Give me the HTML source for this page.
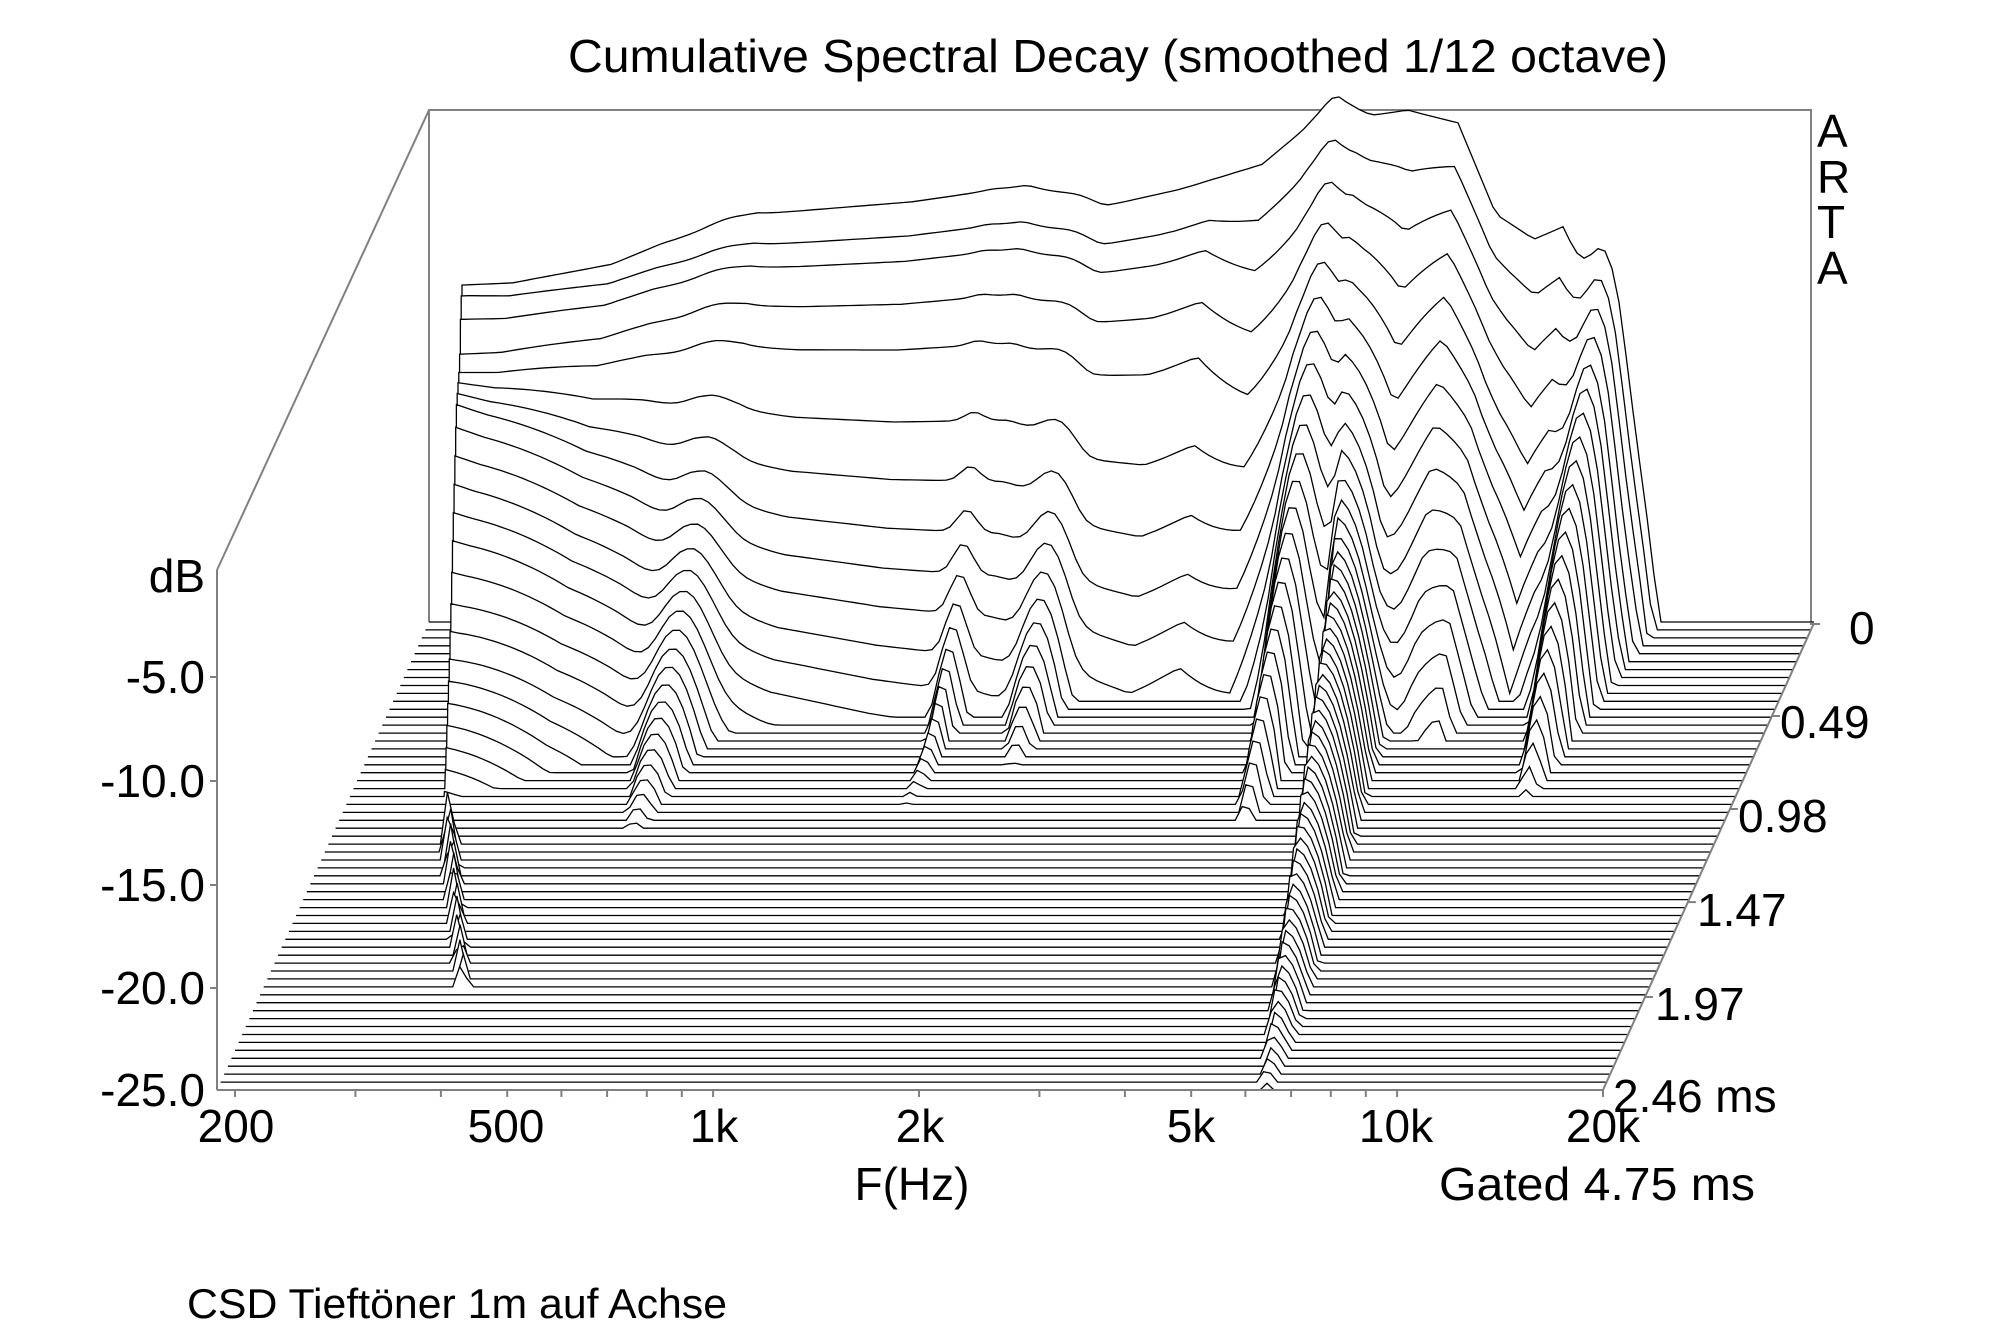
<!DOCTYPE html>
<html><head><meta charset="utf-8"><style>
html,body{margin:0;padding:0;background:#fff;}
svg{display:block;}
text{font-family:"Liberation Sans",Arial,sans-serif;fill:#000;}
</style></head><body>
<svg id="s" xmlns="http://www.w3.org/2000/svg" width="2000" height="1331" viewBox="0 0 2000 1331">
<rect width="2000" height="1331" fill="#fff"/>
<g id="back" stroke="#808080" stroke-width="2" fill="none">
<polyline points="217,570 429,110 1811,110 1811,624 1820,624"/>
<line x1="429" y1="110" x2="429" y2="622"/>
</g>
<g id="slices"></g>
<g stroke="#808080" stroke-width="2" fill="none">
<line x1="217" y1="570" x2="217" y2="1090"/>
<line x1="217" y1="1090" x2="1603" y2="1090"/>
<line x1="1603" y1="1090" x2="1814" y2="623"/>
<g id="ticks"></g>
</g>
<text x="1118" y="72" font-size="46" text-anchor="middle" textLength="1100" lengthAdjust="spacingAndGlyphs">Cumulative Spectral Decay (smoothed 1/12 octave)</text>
<g font-size="46" text-anchor="end">
<text x="205" y="592">dB</text>
<text x="205" y="693">-5.0</text>
<text x="205" y="797">-10.0</text>
<text x="205" y="901">-15.0</text>
<text x="205" y="1004">-20.0</text>
<text x="205" y="1106">-25.0</text>
</g>
<g font-size="46" text-anchor="middle">
<text x="236" y="1142">200</text>
<text x="506" y="1142">500</text>
<text x="714" y="1142">1k</text>
<text x="920" y="1142">2k</text>
<text x="1191" y="1142">5k</text>
<text x="1396" y="1142">10k</text>
<text x="1603" y="1142">20k</text>
<text x="912" y="1200">F(Hz)</text>
</g>
<g font-size="46">
<text x="1439" y="1200" textLength="316" lengthAdjust="spacingAndGlyphs">Gated 4.75 ms</text>
<text x="1849" y="644">0</text>
<text x="1780" y="738">0.49</text>
<text x="1738" y="832">0.98</text>
<text x="1697" y="926">1.47</text>
<text x="1655" y="1020">1.97</text>
<text x="1613" y="1112">2.46 ms</text>
<text x="187" y="1318" font-size="42" textLength="540" lengthAdjust="spacingAndGlyphs">CSD Tieftöner 1m auf Achse</text>
<text x="1817" y="147">A</text>
<text x="1817" y="193">R</text>
<text x="1817" y="238">T</text>
<text x="1817" y="284">A</text>
</g>
</svg>
<script>
(function(){
function lin(p,x){if(x<=p[0][0])return p[0][1];for(var i=1;i<p.length;i++){if(x<=p[i][0]){var a=p[i-1],b=p[i];return a[1]+(b[1]-a[1])*(x-a[0])/(b[0]-a[0]);}}return p[p.length-1][1];}
function cl(v){return v<0?0:(v>1?1:v);}
var P0=[[250,-8.8],[300,-8.7],[400,-7.8],[450,-6.8],[545,-5.4],[700,-4.8],[815,-4.0],[893,-5.0],[968,-4.2],[1050,-3],[1100,-1.0],[1125,-0.4],[1160,-0.8],[1195,-0.4],[1246,-1],[1284,-5.4],[1322,-6.6],[1351,-6],[1407,-11.8],[1440,-18],[1467,-25],[1480,-40]];
var SE=[[250,26],[350,25],[450,23],[550,21],[700,18],[800,15],[900,11],[980,8],[1050,9],[1100,14],[1150,15],[1200,10],[1280,17],[1330,10],[1390,16],[1450,12],[1500,12]];
var D=[[250,0],[350,2.5],[450,4],[600,5],[800,5],[1000,4],[1100,1],[1250,0],[1300,2],[1400,2],[1500,2]];
var LOWt=[[0,-8.8],[1,-8.95],[2,-9.7],[3,-11],[4,-11.5],[7,-11.75],[8,-12.4],[10,-14.3],[12,-16.2],[14,-18.5],[16,-20.4],[20,-23],[24,-25.5]];
var Mt=[[0,0],[1,0.9],[2,1.5],[3,2.7],[4,4],[5,6.2],[6,7.9],[7,9.3],[8,10.4],[10,12.5],[12,14.3],[14,16],[18,19.6],[30,30]];
var FS=[[300,0.8],[450,1.05],[600,1.3],[750,1.45],[850,1.55],[950,1.8],[1050,1.7]];
function res(s){
 var r=[];
 r.push([515,30,34,-18.5-0.25*s]);
 r.push([780,15,15,-23-0.08*s]);
 r.push([865,25,25,-18-0.4*s]);
 r.push([1123,20,20,-8-0.65*s]);
 r.push([1145+2*s,10,40,-14-0.18*s]);
 r.push([1392,20,20,-10-0.7*s]);
 if(s>=28&&s<=46) r.push([340+4.4*(s-29),6,12,-24.2]);
 return r;
}
function dB(xf,s){
 var xs=250+2.8*s;
 if(xf<xs) return -25;
 var p0=lin(P0,xf),se=lin(SE,xf),p0c=Math.max(p0,-25);
 var hi=p0-(p0c+25)*s/se-lin(D,xf)*Math.min(s,4)/4;
 var w=cl((xf-260)/250);
 var lo=p0-((1-w)*(-8.8-lin(LOWt,s))+w*lin(Mt,s)*lin(FS,xf));
 var b=cl((xf-1000)/100);
 var bb=(1-b)*lo+b*hi;
 var pw=Math.pow(10,bb/10);
 var R=res(s);
 for(var i=0;i<R.length;i++){var c=R[i][0],ww=xf<c?R[i][1]:R[i][2];var v=R[i][3]-6*Math.pow((xf-c)/ww,2);pw+=Math.pow(10,v/10);}
 var d=10*Math.log(pw)/Math.LN10;
 if(xf>1400) d-=Math.pow((xf-1400)/50,2)*6;
 return Math.max(-25,d);
}
var N=60,g=document.getElementById("slices"),out="";
for(var s=0;s<N;s++){
 var u=s/(N-1),dx=212*(1-u),dy=-468*(1-u),floor=1090+dy;
 var pts=[],xs=250+2.8*s;
 var xl=[];for(var x=217;x<=1602;x+=7)xl.push(x);xl.push(1602);
 xl.push(xs-0.5);xl.push(xs);xl.sort(function(a,b){return a-b;});
 for(var i=0;i<xl.length;i++){var x=xl[i];if(x<217||x>1602)continue;var v=dB(x,s);pts.push((x+dx).toFixed(1)+","+(floor-(v+25)*20.8).toFixed(1));}
 var ps=pts.join(" ");
 out+='<polygon fill="#fff" stroke="none" points="'+ps+' '+(1602+dx).toFixed(1)+','+(floor+1).toFixed(1)+' '+(217+dx).toFixed(1)+','+(floor+1).toFixed(1)+'"/>';
 out+='<polyline fill="none" stroke="#000" stroke-width="1.3" points="'+ps+'"/>';
}
g.innerHTML=out;
var t="",f=[200,300,400,500,600,700,800,900,1000,2000,3000,4000,5000,6000,7000,8000,9000,10000,20000];
for(var i=0;i<f.length;i++){var x=235+684*Math.log(f[i]/200)/Math.LN10;t+='<line x1="'+x.toFixed(1)+'" y1="1090" x2="'+x.toFixed(1)+'" y2="1097"/>';}
[677,781,885,988].forEach(function(y){t+='<line x1="210" y1="'+y+'" x2="217" y2="'+y+'"/>';});
[0.49,0.98,1.47,1.97].forEach(function(tm){var u=tm/2.46;var x=1814-211*u,y=623+467*u;t+='<line x1="'+x.toFixed(1)+'" y1="'+y.toFixed(1)+'" x2="'+(x+8).toFixed(1)+'" y2="'+y.toFixed(1)+'"/>';});
document.getElementById("ticks").innerHTML=t;
})();
</script>
</body></html>
